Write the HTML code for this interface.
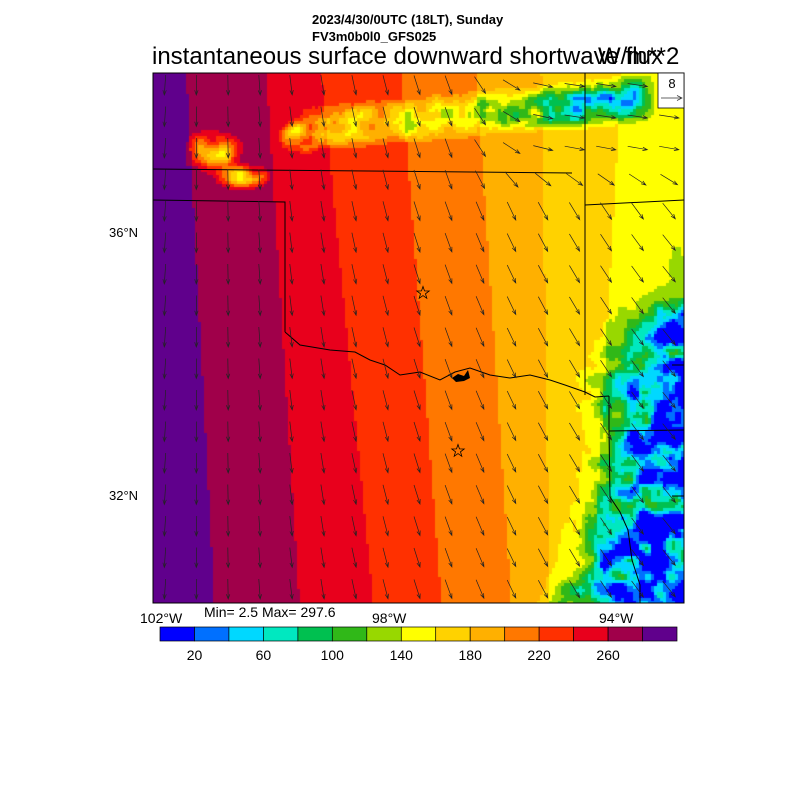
<!DOCTYPE html>
<html><head><meta charset="utf-8"><style>
body{margin:0;background:#fff;width:800px;height:800px;overflow:hidden;position:relative;font-family:"Liberation Sans",sans-serif}
.t{position:absolute;white-space:nowrap;color:#000}
canvas{position:absolute;left:153px;top:73px}
svg{position:absolute;left:0;top:0}
</style></head><body>
<div class="t" style="left:312px;top:12px;font-size:13px;font-weight:bold">2023/4/30/0UTC (18LT), Sunday</div>
<div class="t" style="left:312px;top:29px;font-size:13px;font-weight:bold">FV3m0b0l0_GFS025</div>
<div class="t" style="left:152px;top:43px;font-size:24px">instantaneous surface downward shortwave flux</div>
<div class="t" style="left:598px;top:43px;font-size:24px">W/m**2</div>
<canvas id="c" width="531" height="530"></canvas>
<svg id="s" width="800" height="800"></svg>
<div class="t" style="left:109px;top:225px;font-size:13px">36°N</div>
<div class="t" style="left:109px;top:488px;font-size:13px">32°N</div>
<div class="t" style="left:140px;top:610px;font-size:14px">102°W</div>
<div class="t" style="left:372px;top:610px;font-size:14px">98°W</div>
<div class="t" style="left:599px;top:610px;font-size:14px">94°W</div>
<div class="t" style="left:204px;top:604px;font-size:14px">Min= 2.5 Max= 297.6</div>
<script>
(function(){
var cols=["#0000ff","#0070ff","#00d8ff","#00e8c0","#00c050","#30b818","#98d800","#ffff00","#ffd200","#ffb000","#ff7800","#ff3000","#e8001c","#a0004a","#60008c"];
function h(i,j){var n=Math.sin(i*127.1+j*311.7)*43758.5453;return n-Math.floor(n);}
function vn(x,y,s){x/=s;y/=s;var i=Math.floor(x),j=Math.floor(y),fx=x-i,fy=y-j;fx=fx*fx*(3-2*fx);fy=fy*fy*(3-2*fy);
var a=h(i,j),b=h(i+1,j),c=h(i,j+1),d=h(i+1,j+1);return a+(b-a)*fx+(c-a)*fy+(a-b-c+d)*fx*fy;}
function ss(a,b,x){var t=Math.max(0,Math.min(1,(x-a)/(b-a)));return t*t*(3-2*t);}
var tb=[185,265,320,400,475,540,620],bb=[213,298,372,440,510,548,590];
var bv=[290,270,250,230,210,190,170,150];
var cv=document.getElementById('c'),ctx=cv.getContext('2d');
for(var py=0;py<530;py+=3){for(var px=0;px<531;px+=3){
var X=px+153,Y=py+73,f=py/530,k=0;
for(k=0;k<7;k++){var b=tb[k]+(bb[k]-tb[k])*f;if(X<b)break;}
var v=bv[k]+(vn(X,Y,60)-0.5)*8;
var n1=vn(X,Y,14),n2=vn(X+50,Y+30,6);
var cy=128-(X-300)*0.09,d=Math.abs(Y-cy);
var band=ss(28,6,d)*ss(280,320,X)*ss(660,630,X);
var str=X<480?100:120+(X-480)*0.4;
var cl=band*(0.55+0.6*n1+0.3*n2-0.4);
if(cl>0)v-=cl*str;
var p1=ss(30,5,Math.hypot((X-210)*0.8,(Y-150)*1.1))+ss(25,5,Math.hypot((X-300)*0.9,(Y-135)*1.3))+ss(20,4,Math.hypot((X-240)*0.6,(Y-175)*1.3));
v-=p1*(n1*1.2)*130;
var edge=560+(Y<380?(380-Y)*0.5:0);
var se=ss(edge,edge+100,X+(Y>480?(Y-480)*0.3:0))*ss(270,330,Y);
var s2=se*(0.35+0.9*n1+0.35*n2-0.3);
if(s2>0)v-=s2*175;
if(X>640&&Y<300)v-=ss(660,684,X)*n1*60*ss(230,270,Y);
var idx=Math.max(0,Math.min(14,Math.floor(v/20)));
ctx.fillStyle=cols[idx];ctx.fillRect(px,py,3,3);}}
var S='';
S+='<rect x="153" y="73" width="531" height="530" fill="none" stroke="#000" stroke-width="1"/>';
function L(p){S+='<polyline points="'+p+'" fill="none" stroke="#000" stroke-width="1"/>';}
L("153,169 572,173");L("585,73 585,395");L("585,205 684,200");L("153,200 285,202 285,332");
L("285,332 300,345 330,350 355,352 370,360 385,365 400,375 420,372 440,380 455,372 470,368 490,375 510,378 530,375 550,380 565,385 585,392 595,397 609,396");
L("609,396 609,431 610,497 620,512 628,530 632,560 640,585 640,603");
L("609,431 684,430");L("672,365 684,365");L("672,496 684,496");
S+='<path d="M452,378 l6,-4 6,2 4,-6 2,8 -6,3 -8,1z" fill="#000"/>';
function star(x,y){var p=[];for(var i=0;i<10;i++){var r=i%2?2.6:6.5,a=-Math.PI/2+i*Math.PI/5;p.push((x+r*Math.cos(a)).toFixed(1)+','+(y+r*Math.sin(a)).toFixed(1));}S+='<polygon points="'+p.join(' ')+'" fill="none" stroke="#000" stroke-width="0.8"/>';}
star(423,293);star(458,451);
for(var y=85;y<600;y+=31.5){for(var x=165;x<684;x+=31.5){
if(x>655&&y<110)continue;
var tx=(x-153)/531;
var ang=(95-tx*45)*Math.PI/180;
if(y<215&&x>450){var w=ss(450,560,x)*ss(215,140,y);ang=ang*(1-w)+0.15*w;}
var len=20,dx=len*Math.cos(ang),dy=len*Math.sin(ang),x1=x-dx/2,y1=y-dy/2,x2=x+dx/2,y2=y+dy/2;
var a1=ang+Math.PI-0.35,a2=ang+Math.PI+0.35;
S+='<path d="M'+x1.toFixed(1)+','+y1.toFixed(1)+'L'+x2.toFixed(1)+','+y2.toFixed(1)+'M'+(x2+5*Math.cos(a1)).toFixed(1)+','+(y2+5*Math.sin(a1)).toFixed(1)+'L'+x2.toFixed(1)+','+y2.toFixed(1)+'L'+(x2+5*Math.cos(a2)).toFixed(1)+','+(y2+5*Math.sin(a2)).toFixed(1)+'" stroke="#222" stroke-width="0.7" fill="none"/>';}}
S+='<rect x="658" y="73" width="26" height="35" fill="#fff" stroke="#000" stroke-width="0.8"/>';
S+='<text x="672" y="88" font-size="13" text-anchor="middle" font-family="Liberation Sans">8</text>';
S+='<path d="M661,98 H682 M677,95.5 L682,98 L677,100.5" stroke="#333" stroke-width="0.7" fill="none"/>';
var w=517/15;for(var i=0;i<15;i++){S+='<rect x="'+(160+i*w).toFixed(1)+'" y="627" width="'+w.toFixed(1)+'" height="14" fill="'+cols[i]+'" stroke="#000" stroke-width="0.7"/>';}
var lb=["20","60","100","140","180","220","260"];for(i=0;i<7;i++){S+='<text x="'+(160+(2*i+1)*w).toFixed(1)+'" y="660" font-size="14" text-anchor="middle" font-family="Liberation Sans">'+lb[i]+'</text>';}
document.getElementById('s').innerHTML=S;
})();
</script>
</body></html>
